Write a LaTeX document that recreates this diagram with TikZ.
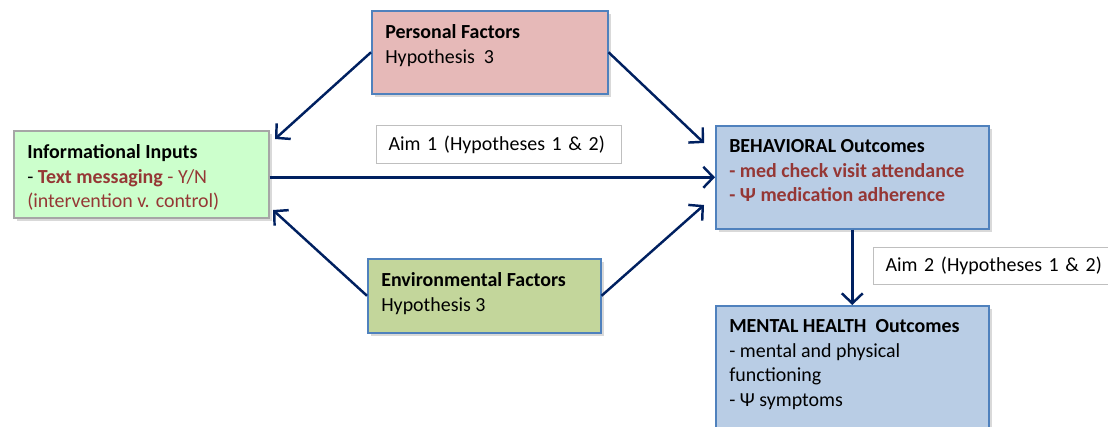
\documentclass[tikz,border=0pt]{standalone}
\usepackage{fontspec}
\setmainfont{Carlito}
\usetikzlibrary{arrows.meta,shadows}
\definecolor{bordbleu}{HTML}{4F81BD}
\definecolor{grisbord}{HTML}{A6A6A6}
\definecolor{grisclair}{HTML}{BFBFBF}
\definecolor{vertclair}{HTML}{CCFFCC}
\definecolor{rose}{HTML}{E6B9B8}
\definecolor{bleuclair}{HTML}{B9CDE5}
\definecolor{olive}{HTML}{C3D69B}
\definecolor{rouge}{HTML}{953735}
\definecolor{marine}{HTML}{002060}

\begin{document}
\begin{tikzpicture}[x=0.02cm, y=-0.02cm, font=\fontsize{11.35}{13.9}\selectfont]
\tikzset{boite/.style={draw=bordbleu, line width=0.9pt, anchor=north west, inner xsep=0.27cm, inner ysep=0.28cm,
  drop shadow={opacity=0.3, shadow xshift=0.07cm, shadow yshift=-0.07cm}}}
\tikzset{etiquette/.style={draw=grisclair, fill=white, line width=0.6pt, anchor=north west, inner xsep=0.24cm, inner ysep=0pt, align=left}}
\tikzset{fleche/.style={draw=marine, line width=1.4pt, -{Straight Barb[length=0.2cm,width=0.42cm]}}}
\clip (0,0) rectangle (1108,426);
\node[boite, draw=grisbord, fill=vertclair] (info) at (13,130)
  {\parbox[t][1.18cm][t]{4.56cm}{\textbf{Informational Inputs}\\
  - \textcolor{rouge}{\textbf{Text messaging} - Y/N}\\
  \textcolor{rouge}{(intervention v. control)}}};
\node[boite, fill=rose] (perso) at (371,10)
  {\parbox[t][1.10cm][t]{4.18cm}{\textbf{Personal Factors}\\ Hypothesis\ \ 3}};
\node[boite, fill=olive] (envir) at (367,258)
  {\parbox[t][0.92cm][t]{4.12cm}{\textbf{Environmental Factors}\\ Hypothesis 3}};
\node[boite, fill=bleuclair] (behav) at (715,125)
  {\parbox[t][1.50cm][t]{4.92cm}{\textbf{BEHAVIORAL Outcomes}\\
  \textcolor{rouge}{\textbf{- med check visit attendance}}\\
  \textcolor{rouge}{\textbf{- Ψ medication adherence}}}};
\node[boite, fill=bleuclair] (mental) at (715,305)
  {\parbox[t][2.04cm][t]{4.92cm}{\textbf{MENTAL HEALTH\ \ Outcomes}\\
  - mental and physical\\ functioning\\ - Ψ symptoms}};
\node[etiquette, text width=4.42cm, minimum height=0.76cm] (aim1) at (376,125) {Aim 1 (Hypotheses 1 \& 2)};
\node[etiquette, text width=4.8cm, minimum height=0.74cm] (aim2) at (873,247) {Aim 2 (Hypotheses 1 \& 2)};
\coordinate (infohaut) at (275,139);
\coordinate (infobas) at (273,210);
\coordinate (behavhaut) at (704,143);
\coordinate (behavbas) at (704,205);
\draw[fleche] (perso.west) -- (infohaut);
\draw[fleche] (perso.east) -- (behavhaut);
\draw[fleche] (envir.west) -- (infobas);
\draw[fleche] (envir.east) -- (behavbas);
\draw[fleche] (info.east |- behav.west) -- (behav.west);
\draw[fleche] (behav.south) -- (mental.north);
\end{tikzpicture}
\end{document}
